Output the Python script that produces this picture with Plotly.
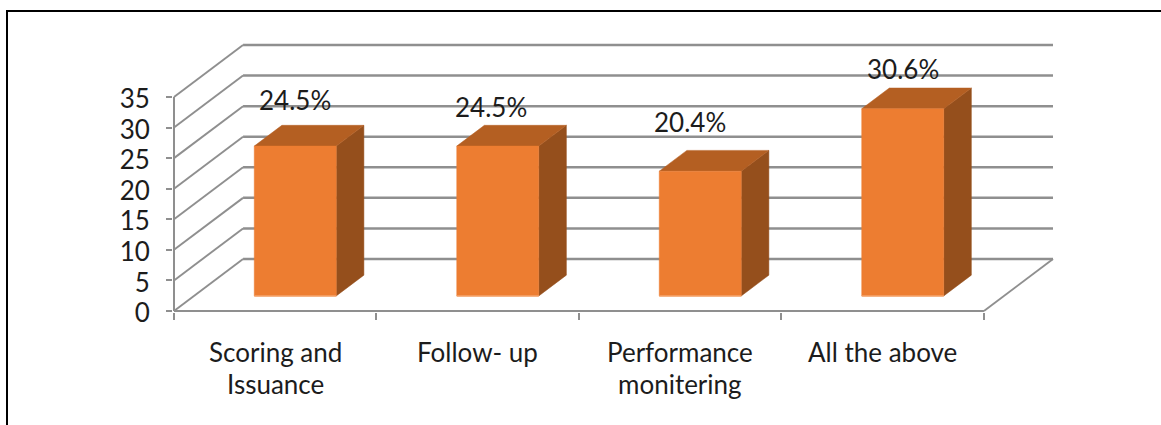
import plotly.graph_objects as go

# Chart content
categories = [["Scoring and", "Issuance"], ["Follow- up"], ["Performance", "monitering"], ["All the above"]]
values = [24.5, 24.5, 20.4, 30.6]
value_labels = ["24.5%", "24.5%", "20.4%", "30.6%"]
y_ticks = [0, 5, 10, 15, 20, 25, 30, 35]

# Oblique projection: how far the back wall sits from the front plane, in axis units
DEPTH_X = 0.341
DEPTH_Y = 8.5
BAR_WIDTH = 0.405
BAR_START = 0.29   # share of the floor depth in front of each bar
BAR_DEPTH = 0.40   # share of the floor depth taken by each bar

# Manual nudges of the value labels, in pixels from the top-centre of each front face
label_dx = [0, -7, -10, 0]
label_dy = [46, 39, 49, 40]

GRID = "#8f8f8f"
FRONT = "#ED7D31"
TOP = "#B45F22"
SIDE = "#954F1C"
EDGE = "#F4A46C"
FONT = "Lato"
TEXT = "#1c1c1c"
FONT_SIZE = 26
LABEL_TOP = 334      # pixel row where the category names start
LABEL_LEADING = 32   # pixels between the lines of a category name

L, R, T, B = 173, 107, 43, 113
W, H = 1161, 425
plot_w, plot_h = W - L - R, H - T - B
X_UNIT = 202.3   # pixels per category
Y_UNIT = 6.114   # pixels per value unit

fig = go.Figure()


def line(xs, ys, width=2.0, color=GRID):
    fig.add_trace(go.Scatter(x=xs, y=ys, mode="lines", hoverinfo="skip",
                             line=dict(color=color, width=width), showlegend=False))


def face(xs, ys, color):
    fig.add_trace(go.Scatter(x=xs + xs[:1], y=ys + ys[:1], mode="lines", fill="toself",
                             fillcolor=color, line=dict(color=color, width=0.5),
                             hoverinfo="skip", showlegend=False))


n = len(categories)

# Back wall gridlines with their slanted runs along the side wall
for v in y_ticks:
    line([DEPTH_X, n + DEPTH_X], [v + DEPTH_Y, v + DEPTH_Y], 2.5)
    line([0, DEPTH_X], [v, v + DEPTH_Y], 1.9)

# Front axis lines and the right edge of the floor
line([0, 0], [0, y_ticks[-1]], 2.0)
line([0, n], [0, 0], 2.0)
line([n, n + DEPTH_X], [0, DEPTH_Y], 1.9)

# Columns: side, top and front faces projected from the values
for i, v in enumerate(values):
    x0 = i + (1 - BAR_WIDTH) / 2 + DEPTH_X * BAR_START
    x1 = x0 + BAR_WIDTH
    y0 = DEPTH_Y * BAR_START
    y1 = y0 + v
    dx = DEPTH_X * BAR_DEPTH
    dy = DEPTH_Y * BAR_DEPTH
    face([x1, x1 + dx, x1 + dx, x1], [y0, y0 + dy, y1 + dy, y1], SIDE)
    face([x0, x0 + dx, x1 + dx, x1], [y1, y1 + dy, y1 + dy, y1], TOP)
    face([x0, x1, x1, x0], [y0, y0, y1, y1], FRONT)
    line([x0, x1], [y0, y0], 1.5, EDGE)
    fig.add_annotation(x=(x0 + x1) / 2, y=y1, text=value_labels[i], showarrow=False,
                       xshift=label_dx[i], yshift=label_dy[i], xanchor="center", yanchor="middle",
                       font=dict(family=FONT, size=FONT_SIZE, color=TEXT))

# Category names centred between the x-axis ticks, one annotation per line
for i, rows in enumerate(categories):
    for r, row in enumerate(rows):
        fig.add_annotation(x=i + 0.5, xref="x", y=-(LABEL_TOP + r * LABEL_LEADING - (H - B)) / plot_h, yref="paper",
                           text=row, showarrow=False, xanchor="center", yanchor="top", align="center",
                           font=dict(family=FONT, size=FONT_SIZE, color=TEXT))


# Page frame: top and left rules only
def px_x(p):
    return (p - L) / plot_w


def px_y(p):
    return (H - B - p) / plot_h


fig.add_shape(type="line", xref="paper", yref="paper", x0=px_x(6), x1=px_x(W), y0=px_y(11), y1=px_y(11),
              line=dict(color="#000000", width=2))
fig.add_shape(type="line", xref="paper", yref="paper", x0=px_x(7), x1=px_x(7), y0=px_y(11), y1=px_y(H),
              line=dict(color="#000000", width=2))

fig.update_layout(
    width=W, height=H, autosize=False,
    margin=dict(l=L, r=R, t=T, b=B, pad=0),
    paper_bgcolor="white", plot_bgcolor="white",
    showlegend=False,
    # A pixel or two of slack keeps the edge lines from being clipped by the plot area
    xaxis=dict(range=[-1 / X_UNIT, n + DEPTH_X + 1 / X_UNIT], tickvals=list(range(n + 1)), ticktext=[""] * (n + 1),
               ticks="outside", ticklen=7, tickwidth=2, tickcolor=GRID,
               showgrid=False, zeroline=False, showline=False, fixedrange=True),
    yaxis=dict(range=[-1 / Y_UNIT, y_ticks[-1] + DEPTH_Y + 2 / Y_UNIT], tickvals=y_ticks, ticks="outside",
               ticklen=6, tickwidth=2, tickcolor=GRID, ticklabelstandoff=11, ticklabelshift=2,
               showgrid=False, zeroline=False, showline=False, fixedrange=True,
               tickfont=dict(family=FONT, size=FONT_SIZE, color=TEXT)),
)

fig.write_html("out.html", config=dict(displayModeBar=False))
